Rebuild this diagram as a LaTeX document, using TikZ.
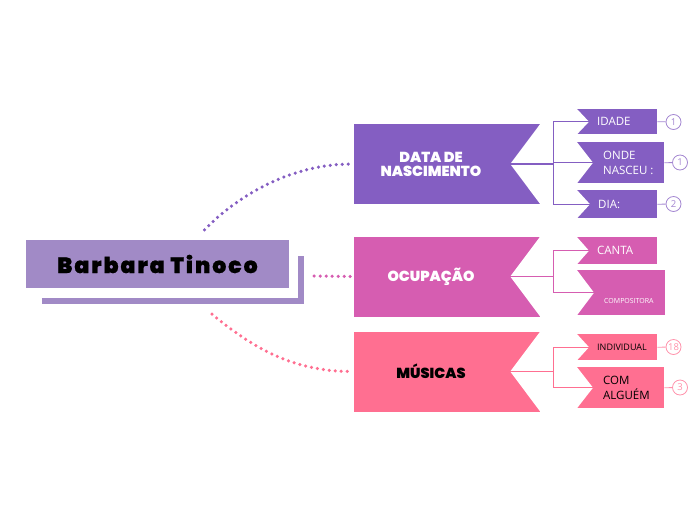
\documentclass[tikz,border=0pt]{standalone}
\usepackage{fontspec}
\setmainfont{Open Sans}
\newfontfamily\heavyfont{Poppins Black}
\newfontfamily\centralfont{Poppins Black}[LetterSpace=9,FakeBold=0.6]
\usepackage{xcolor}
\usepackage{tikz}
\usetikzlibrary{positioning,calc}
\definecolor{TopicPurple}{HTML}{845EC2}
\definecolor{TopicMagenta}{HTML}{D65DB1}
\definecolor{TopicPink}{HTML}{FF6F91}
\definecolor{CentralLilac}{HTML}{A18AC6}
\tikzset{
  % Central box
  CB/.style={rectangle,fill=CentralLilac,minimum width=263pt,minimum height=48pt,
             inner sep=0pt,font=\centralfont\fontsize{22}{24}\selectfont,text=black},
  % Main topic box (notch is cut afterwards)
  MB/.style={rectangle,minimum width=186pt,minimum height=80pt,inner sep=0pt},
  % Topic text
  MT/.style={font=\heavyfont\fontsize{14.5}{14}\selectfont,align=center,inner sep=0pt},
  % Sub-topic box
  SB/.style={rectangle,anchor=north west,minimum width=80pt,inner sep=0pt},
  % Sub-topic text
  ST/.style={anchor=west,font=\fontsize{11.5}{15}\selectfont,align=left,inner sep=0pt},
  % Dotted link
  lnk/.style={line width=3.5pt,line cap=round,dash pattern=on 0pt off 6pt},
  % Branch line
  br/.style={line width=1.3pt},
  % Count badge
  bdg/.style={circle,draw,fill=white,line width=0.8pt,minimum size=15pt,
              inner sep=0pt,font=\fontsize{9.5}{9.5}\selectfont}
}

\begin{document}
\begin{tikzpicture}[x=1pt,y=-1pt]
  \useasboundingbox (0,0) rectangle (696,520);
  % central topic
  \node[CB] (bt) at (157.5,264) {Barbara Tinoco};
  \draw[CentralLilac,line width=6pt] ($(bt.south west)+(16,13)$) -| ($(bt.north east)+(12,16)$);
  % main topics
  \node[MB,fill=TopicPurple]  (data) at (447,164)   {};
  \node[MB,fill=TopicMagenta] (ocup) at (447,276.5) {};
  \node[MB,fill=TopicPink]    (mus)  at (447,371.5) {};
  \foreach \b in {data,ocup,mus}{
    \fill[white] ($(\b.north east)+(0.5,-0.5)$) -- ($(\b.east)+(-30,0)$) -- ($(\b.south east)+(0.5,0.5)$) -- cycle;
    \coordinate (\b-tip) at ($(\b.east)+(-30,0)$);
  }
  \node[MT,text=white] (dataT) at ($(data.center)+(-16,0)$) {DATA DE\\NASCIMENTO};
  \node[MT,text=white] (ocupT) at ($(ocup.center)+(-16,0)$) {OCUPAÇÃO};
  \node[MT,text=black] (musT)  at ($(mus.center)+(-16,0)$)  {MÚSICAS};
  % links from the central topic
  \draw[lnk,TopicPurple]  ($(bt.north)+(47,-10)$) .. controls +(34,-35) and +(-60,0) .. ($(data.west)+(-2,0)$);
  \draw[lnk,TopicMagenta] ($(bt.east)+(25,12)$) -- ($(ocup.west)+(-2,0)$);
  \draw[lnk,TopicPink]    ($(bt.south)+(54.5,26)$) .. controls +(38,31) and +(-62,0) .. ($(mus.west)+(-2,0)$);
  % sub-topics
  \node[SB,fill=TopicPurple,minimum height=25pt]                   (idade) at (577,109) {};
  \node[SB,fill=TopicPurple,minimum width=87pt,minimum height=41pt] (onde)  at (577,142) {};
  \node[SB,fill=TopicPurple,minimum height=28pt]                   (dia)   at (577,190) {};
  \node[SB,fill=TopicMagenta,minimum height=27pt]                  (canta) at (577,237) {};
  \node[SB,fill=TopicMagenta,minimum width=88pt,minimum height=45pt] (comp) at (577,270) {};
  \node[SB,fill=TopicPink,minimum height=26pt]                     (indiv) at (577,334) {};
  \node[SB,fill=TopicPink,minimum width=87pt,minimum height=41pt]  (alg)   at (577,367) {};
  \foreach \k/\d in {idade/12,onde/16,dia/13,canta/12,comp/17,indiv/12,alg/16}{
    \fill[white] ($(\k.north west)+(-0.5,-0.5)$) -- ($(\k.west)+(\d,0)$) -- ($(\k.south west)+(-0.5,0.5)$) -- cycle;
    \coordinate (\k-tip) at ($(\k.west)+(\d,0)$);
  }
  \node[ST,text=white] (idadeT) at ($(idade.west)+(20,0)$) {IDADE};
  \node[ST,text=white] (ondeT)  at ($(onde.west)+(26,0)$)  {ONDE\\NASCEU :};
  \node[ST,text=white] (diaT)   at ($(dia.west)+(21,0)$)   {DIA:};
  \node[ST,text=white] (cantaT) at ($(canta.west)+(20,0)$) {CANTA};
  \node[ST,text=white,font=\fontsize{7}{8}\selectfont] (compT) at ($(comp.west)+(27,8)$) {COMPOSITORA};
  \node[ST,font=\fontsize{9}{10}\selectfont] (indivT) at ($(indiv.west)+(20,0)$) {INDIVIDUAL};
  \node[ST] (algT) at ($(alg.west)+(26,0)$) {COM\\ALGUÉM};
  % branches
  \draw[br,TopicPurple]  (data-tip) -- ++(43,0) |- (idade-tip);
  \draw[br,TopicPurple]  (data-tip) -- ++(43,0) |- (onde-tip);
  \draw[br,TopicPurple]  (data-tip) -- ++(43,0) |- (dia-tip);
  \draw[br,TopicMagenta] (ocup-tip) -- ++(43,0) |- (canta-tip);
  \draw[br,TopicMagenta] (ocup-tip) -- ++(43,0) |- (comp-tip);
  \draw[br,TopicPink]    (mus-tip)  -- ++(43,0) |- (indiv-tip);
  \draw[br,TopicPink]    (mus-tip)  -- ++(43,0) |- (alg-tip);
  % count badges
  \node[bdg,draw=TopicPurple!75,text=TopicPurple!75] (n1) at (673.5,122) {1};
  \node[bdg,draw=TopicPurple!75,text=TopicPurple!75] (n2) at (680,162.5) {1};
  \node[bdg,draw=TopicPurple!75,text=TopicPurple!75] (n3) at (673.5,204) {2};
  \node[bdg,draw=TopicPink!75,text=TopicPink!75]     (n4) at (673.5,347) {18};
  \node[bdg,draw=TopicPink!75,text=TopicPink!75]     (n5) at (680,387.5) {3};
  \draw[TopicPurple!75,line width=0.8pt] (idade.east) -- (n1);
  \draw[TopicPurple!75,line width=0.8pt] (onde.east) -- (n2);
  \draw[TopicPurple!75,line width=0.8pt] (dia.east) -- (n3);
  \draw[TopicPink!75,line width=0.8pt]   (indiv.east) -- (n4);
  \draw[TopicPink!75,line width=0.8pt]   (alg.east) -- (n5);
\end{tikzpicture}
\end{document}
